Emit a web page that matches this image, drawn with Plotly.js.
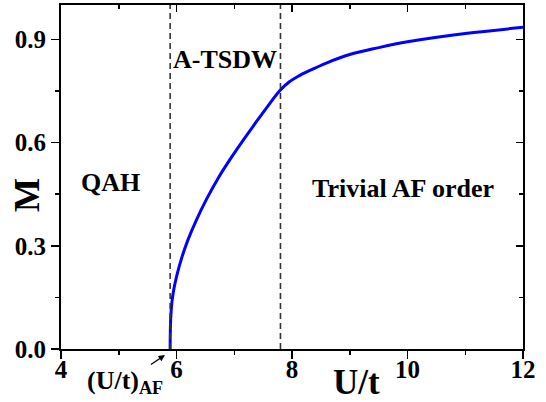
<!DOCTYPE html>
<html>
<head>
<meta charset="utf-8">
<script src="https://cdn.plot.ly/plotly-3.0.1.min.js"></script>
<style>
  html, body { margin: 0; padding: 0; background: #fff; }
  #chart { width: 546px; height: 402px; }
</style>
</head>
<body>
<div id="chart"></div>
<script>
// Staggered magnetization M versus interaction strength U/t
const uOverT = [5.89, 5.892, 5.9, 5.92, 5.95, 6.0, 6.09, 6.2, 6.35, 6.525, 6.726, 6.93,
                7.15, 7.35, 7.55, 7.795, 7.95, 8.1, 8.3, 8.605, 9.0, 9.5, 10.0, 11.0, 12.0];
const magnetization = [0.0, 0.04, 0.09, 0.135, 0.17, 0.21, 0.265, 0.318, 0.377, 0.437, 0.498, 0.552,
                       0.606, 0.653, 0.699, 0.752, 0.776, 0.792, 0.809, 0.832, 0.856, 0.876, 0.893, 0.917, 0.935];

// Phase boundaries (dashed vertical lines)
const phaseBoundaries = [5.89, 7.8];

// Phase labels and their positions in data coordinates
const phaseNames = ["QAH", "A-TSDW", "Trivial AF order"];
const phaseX = [4.85, 6.84, 9.92];
const phaseY = [0.483, 0.842, 0.466];

// Critical point marker: label text and arrow tip (paper fractions)
const criticalLabel = "(U/t)<sub>AF</sub>";
const criticalTip = [0.2251, -0.0174];

const xRange = [4, 12];
const yRange = [0, 1.0];

const serif = "Liberation Serif, Times New Roman, serif";
const boldFont = (size) => ({ family: serif, size: size, color: "#000", weight: "bold" });

const traces = [
  {
    x: uOverT,
    y: magnetization,
    type: "scatter",
    mode: "lines",
    line: { color: "#0000ff", width: 3, shape: "spline", smoothing: 1 },
    hoverinfo: "skip",
    showlegend: false
  },
  {
    // empty trace so the mirrored top/right tick axes get drawn
    x: [], y: [], xaxis: "x2", yaxis: "y2",
    type: "scatter", mode: "lines", showlegend: false, hoverinfo: "skip"
  }
];

const shapes = phaseBoundaries.map(b => ({
  type: "line", xref: "x", yref: "paper",
  x0: b, x1: b, y0: 0, y1: 1,
  line: { color: "#333", width: 1.6, dash: "6px,4px" }
}));

const annotations = phaseNames.map((name, i) => ({
  x: phaseX[i], y: phaseY[i], xref: "x", yref: "y",
  text: name, showarrow: false, font: boldFont(26),
  xanchor: "center", yanchor: "middle"
}));

annotations.push({
  x: criticalTip[0], y: criticalTip[1], xref: "paper", yref: "paper",
  text: criticalLabel, font: boldFont(26),
  showarrow: true, arrowhead: 2, arrowsize: 1, arrowwidth: 1.3, arrowcolor: "#000",
  ax: -40, ay: 27, standoff: 0, startstandoff: 0
});

// Axis titles, placed in paper coordinates
const plotW = 546 - 61 - 23, plotH = 402 - 5 - 53;
annotations.push({
  x: (27 - 61) / plotW, y: (402 - 53 - 195) / plotH, xref: "paper", yref: "paper",
  xanchor: "center", yanchor: "middle",
  text: "M", textangle: -90, showarrow: false, font: boldFont(36)
});
annotations.push({
  x: (356 - 61) / plotW, y: (402 - 53 - 382) / plotH, xref: "paper", yref: "paper",
  xanchor: "center", yanchor: "middle",
  text: "U/t", showarrow: false, font: boldFont(35)
});

const layout = {
  width: 546, height: 402,
  margin: { l: 61, r: 23, t: 5, b: 53 },
  paper_bgcolor: "#fff", plot_bgcolor: "#fff",
  showlegend: false,
  xaxis: {
    range: xRange, dtick: 2, tick0: 4,
    showgrid: false, zeroline: false,
    showline: true, linecolor: "#000", linewidth: 2, mirror: true,
    ticks: "outside", ticklen: 8, tickwidth: 1.5, tickcolor: "#000",
    ticklabelstandoff: -11,
    minor: { dtick: 1, ticks: "outside", ticklen: 4, tickwidth: 1.5, tickcolor: "#000" },
    tickfont: boldFont(25)
  },
  yaxis: {
    range: yRange, dtick: 0.3, tick0: 0, tickformat: ".1f",
    showgrid: false, zeroline: false,
    showline: true, linecolor: "#000", linewidth: 2, mirror: true,
    ticks: "outside", ticklen: 8, tickwidth: 1.5, tickcolor: "#000",
    minor: { dtick: 0.15, ticks: "outside", ticklen: 4, tickwidth: 1.5, tickcolor: "#000" },
    tickfont: boldFont(25)
  },
  xaxis2: {
    overlaying: "x", side: "top", anchor: "y2", range: xRange, dtick: 2, tick0: 4,
    showgrid: false, zeroline: false, showline: false, showticklabels: false,
    ticks: "inside", ticklen: 7, tickwidth: 1.5, tickcolor: "#000",
    minor: { dtick: 1, ticks: "inside", ticklen: 4, tickwidth: 1.5, tickcolor: "#000" }
  },
  yaxis2: {
    overlaying: "y", side: "right", anchor: "x2", range: yRange, dtick: 0.3, tick0: 0,
    showgrid: false, zeroline: false, showline: false, showticklabels: false,
    ticks: "inside", ticklen: 7, tickwidth: 1.5, tickcolor: "#000",
    minor: { dtick: 0.15, ticks: "inside", ticklen: 4, tickwidth: 1.5, tickcolor: "#000" }
  },
  shapes: shapes,
  annotations: annotations
};

Plotly.newPlot("chart", traces, layout, { displayModeBar: false, staticPlot: true });
</script>
</body>
</html>
